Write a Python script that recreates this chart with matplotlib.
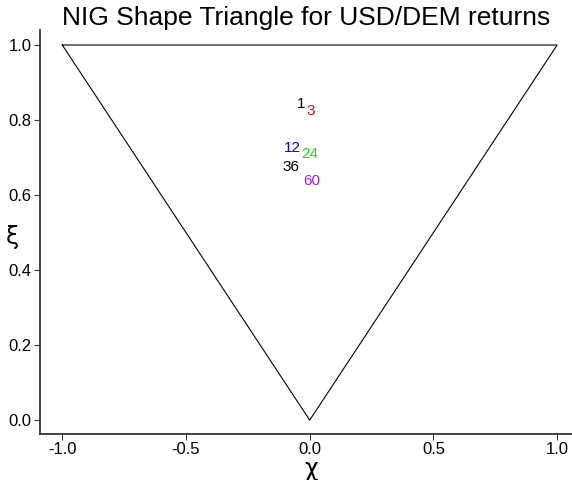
import numpy as np
import matplotlib.pyplot as plt

plt.rcParams['font.family'] = ['Liberation Sans', 'DejaVu Sans']

# triangle outline
tri_x = [-1.0, 1.0, 0.0, -1.0]
tri_y = [1.0, 1.0, 0.0, 1.0]

# labels (horizon) and their shape coordinates
labels = ["1", "3", "12", "24", "36", "60"]
chi = [-0.034, 0.002, -0.070, 0.000, -0.074, 0.008]
xi = [0.842, 0.823, 0.726, 0.710, 0.674, 0.637]
colors = ["black", "red", "blue", "#00ee00", "black", "#a020f0"]

fig = plt.figure(figsize=(5.72, 4.8), dpi=100)
ax = fig.add_axes([40 / 572, 46 / 480, 1 - 40 / 572, (434 - 30) / 480])

ax.plot(tri_x, tri_y, color="black", linewidth=0.8)
for lab, cx, cy, c in zip(labels, chi, xi, colors):
    ax.text(cx, cy, lab, color=c, fontsize=11, ha="center", va="center")

ax.set_xlim(-1.09, 1.06)
ax.set_ylim(-0.037, 1.04)
ax.set_xticks([-1.0, -0.5, 0.0, 0.5, 1.0])
ax.set_yticks([0.0, 0.2, 0.4, 0.6, 0.8, 1.0])
ax.set_xticklabels(["-1.0", "-0.5", "0.0", "0.5", "1.0"])
ax.tick_params(labelsize=12, length=4, pad=2, color="#333333", labelcolor="black")
for s in ["top", "right"]:
    ax.spines[s].set_visible(False)
for s in ["left", "bottom"]:
    ax.spines[s].set_color("#333333")
    ax.spines[s].set_linewidth(1.3)

# axis titles placed in figure coords
fig.text(311 / 572, 1 - 469 / 480, "χ", fontsize=17, family="DejaVu Sans",
         ha="center", va="center")
fig.text(12 / 572, 1 - 237 / 480, "ξ", fontsize=17, family="DejaVu Sans",
         ha="center", va="center")
ax.set_title("NIG Shape Triangle for USD/DEM returns", fontsize=19, pad=1)

plt.savefig("out.png")
